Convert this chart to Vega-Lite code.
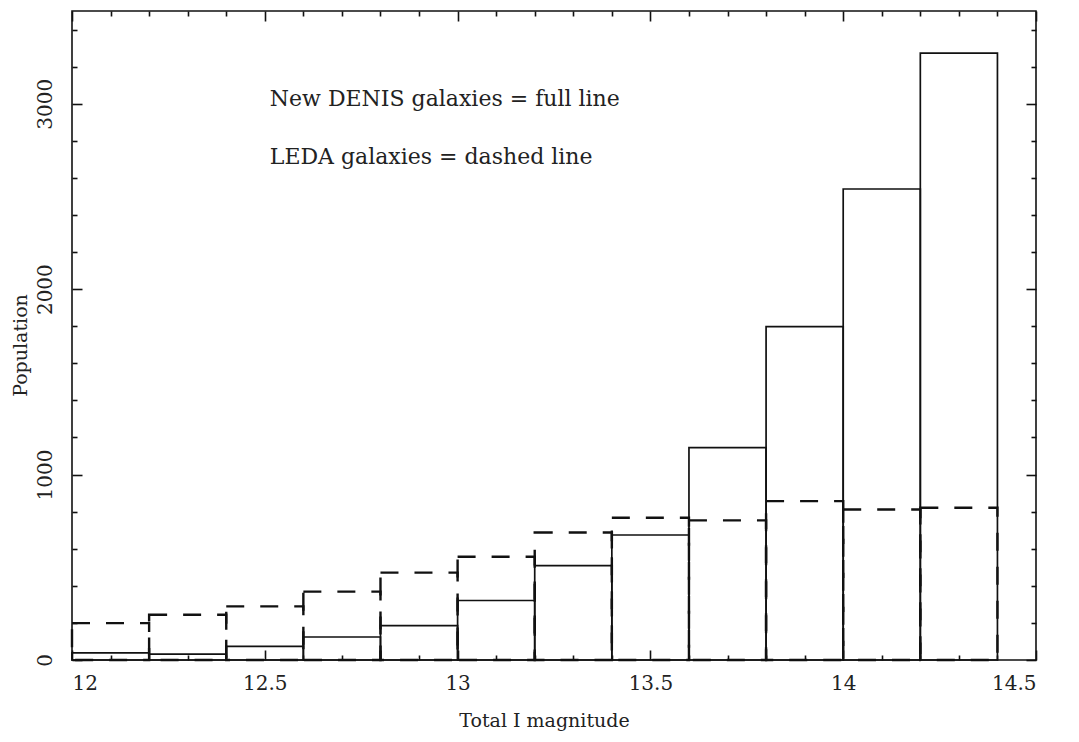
{
  "$schema": "https://vega.github.io/schema/vega-lite/v6.json",
  "autosize": {"type": "none"},
  "width": 964,
  "height": 649,
  "padding": {"left": 72, "top": 11, "right": 43, "bottom": 82},
  "background": "white",
  "config": {
    "view": {"stroke": "#111", "strokeWidth": 1.6},
    "axis": {
      "grid": false, "domain": false, "tickColor": "#111", "tickWidth": 1.6,
      "labelFont": "DejaVu Serif", "labelFontSize": 20, "labelColor": "#222",
      "titleFont": "DejaVu Serif", "titleFontSize": 19, "titleFontWeight": "normal", "titleColor": "#222"
    }
  },
  "datasets": {
    "bins": [
      {"lo": 12.0, "hi": 12.2, "denis": 38, "leda": 199},
      {"lo": 12.2, "hi": 12.4, "denis": 32, "leda": 244},
      {"lo": 12.4, "hi": 12.6, "denis": 74, "leda": 289},
      {"lo": 12.6, "hi": 12.8, "denis": 124, "leda": 369},
      {"lo": 12.8, "hi": 13.0, "denis": 185, "leda": 471},
      {"lo": 13.0, "hi": 13.2, "denis": 321, "leda": 557},
      {"lo": 13.2, "hi": 13.4, "denis": 509, "leda": 688},
      {"lo": 13.4, "hi": 13.6, "denis": 674, "leda": 767},
      {"lo": 13.6, "hi": 13.8, "denis": 1145, "leda": 753},
      {"lo": 13.8, "hi": 14.0, "denis": 1798, "leda": 857},
      {"lo": 14.0, "hi": 14.2, "denis": 2540, "leda": 812},
      {"lo": 14.2, "hi": 14.4, "denis": 3273, "leda": 821}
    ]
  },
  "resolve": {"axis": {"x": "independent", "y": "independent"}},
  "layer": [
    {
      "data": {"name": "bins"},
      "mark": {"type": "rect", "fill": null, "fillOpacity": 0, "stroke": "#111", "strokeWidth": 2.4, "strokeDash": [18, 16]},
      "encoding": {
        "x": {"field": "lo", "type": "quantitative",
              "scale": {"domain": [12, 14.5], "nice": false, "zero": false},
              "axis": {"orient": "bottom", "values": [12, 12.5, 13, 13.5, 14, 14.5], "tickSize": -10, "labelPadding": 23, "format": "~g",
                       "title": "Total I magnitude", "titleX": 472, "titleY": 60, "titleBaseline": "middle"}},
        "x2": {"field": "hi"},
        "y": {"field": "leda", "type": "quantitative",
              "scale": {"domain": [0, 3500], "nice": false},
              "axis": {"orient": "left", "values": [0, 1000, 2000, 3000], "tickSize": -10, "labelAngle": -90, "labelPadding": 27, "format": "d",
                       "title": "Population", "titleX": -52, "titleY": 334, "titleBaseline": "middle"}},
        "y2": {"datum": 0}
      }
    },
    {
      "data": {"name": "bins"},
      "mark": {"type": "rect", "fill": null, "fillOpacity": 0, "stroke": "#111", "strokeWidth": 1.7},
      "encoding": {
        "x": {"field": "lo", "type": "quantitative",
              "axis": {"orient": "bottom", "values": [12.1, 12.2, 12.3, 12.4, 12.6, 12.7, 12.8, 12.9, 13.1, 13.2, 13.3, 13.4, 13.6, 13.7, 13.8, 13.9, 14.1, 14.2, 14.3, 14.4], "tickSize": -5, "labels": false, "title": null}},
        "x2": {"field": "hi"},
        "y": {"field": "denis", "type": "quantitative",
              "axis": {"orient": "left", "values": [200, 400, 600, 800, 1200, 1400, 1600, 1800, 2200, 2400, 2600, 2800, 3200, 3400], "tickSize": -5, "labels": false, "title": null}},
        "y2": {"datum": 0}
      }
    },
    {
      "data": {"values": [{"x": 12.513, "y": 3025, "label": "New DENIS galaxies = full line"}]},
      "mark": {"type": "text", "align": "left", "baseline": "middle", "font": "DejaVu Serif", "fontSize": 22, "color": "#222"},
      "encoding": {
        "x": {"field": "x", "type": "quantitative",
              "axis": {"orient": "top", "values": [12, 12.5, 13, 13.5, 14, 14.5], "tickSize": -10, "labels": false, "title": null}},
        "y": {"field": "y", "type": "quantitative",
              "axis": {"orient": "right", "values": [0, 1000, 2000, 3000], "tickSize": -10, "labels": false, "title": null}},
        "text": {"field": "label"}
      }
    },
    {
      "data": {"values": [{"x": 12.513, "y": 2713, "label": "LEDA galaxies = dashed line"}]},
      "mark": {"type": "text", "align": "left", "baseline": "middle", "font": "DejaVu Serif", "fontSize": 22, "color": "#222"},
      "encoding": {
        "x": {"field": "x", "type": "quantitative",
              "axis": {"orient": "top", "values": [12.1, 12.2, 12.3, 12.4, 12.6, 12.7, 12.8, 12.9, 13.1, 13.2, 13.3, 13.4, 13.6, 13.7, 13.8, 13.9, 14.1, 14.2, 14.3, 14.4], "tickSize": -5, "labels": false, "title": null}},
        "y": {"field": "y", "type": "quantitative",
              "axis": {"orient": "right", "values": [200, 400, 600, 800, 1200, 1400, 1600, 1800, 2200, 2400, 2600, 2800, 3200, 3400], "tickSize": -5, "labels": false, "title": null}},
        "text": {"field": "label"}
      }
    }
  ]
}
